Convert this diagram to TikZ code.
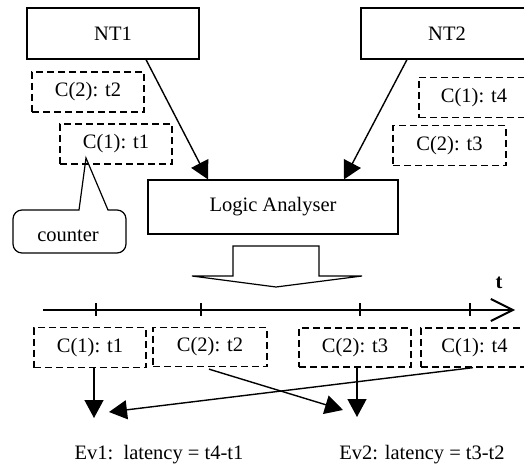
\documentclass[tikz,border=0pt]{standalone}
\usepackage{fontspec}
\setmainfont{Liberation Serif}
\usetikzlibrary{arrows.meta}
\begin{document}
\begin{tikzpicture}[x=1pt,y=-1pt,
  every node/.style={font=\fontsize{20.5}{24}\selectfont, inner sep=0pt},
  unitbox/.style={draw, line width=1.2pt, minimum height=51pt, minimum width=172pt},
  tagbox/.style={draw, line width=1.3pt, dash pattern=on 7pt off 4pt, minimum height=40pt, minimum width=112pt},
  flow/.style={line width=1.4pt, -{Triangle[length=18pt,width=19pt]}},
]
\useasboundingbox (0,0) rectangle (524,468);
\clip (0,0) rectangle (524,468);

% network taps and the analyser
\node[unitbox] (nt1) at (113,33.5) {NT1};
\node[unitbox] (nt2) at (447,33.5) {NT2};
\node[unitbox, minimum width=250pt, minimum height=54pt] (la) at (273,207) {Logic Analyser};

% counter values carried by the packets
\node[tagbox] (a2) at (88,92) {C(2): t2};
\node[tagbox] (a1) at (116,144) {C(1): t1};
\node[tagbox, minimum width=110pt] (a4) at (474,97.5) {C(1): t4};
\node[tagbox, minimum width=113pt] (a3) at (449.5,145.5) {C(2): t3};

\draw[flow] ([xshift=33pt]nt1.south) -- ([xshift=-65pt]la.north);
\draw[flow] ([xshift=-40pt]nt2.south) -- ([xshift=71pt]la.north);

% callout naming the counter
\node (cnt) at (68,235.5) {counter};
\draw[line width=1.2pt] (86,158) -- (108,210) [rounded corners=9pt] -- (126,210) -- (126,253)
  -- (13,253) -- (13,210) [sharp corners] -- (79,210) -- cycle;

% hollow block arrow below the analyser
\draw[line width=1.2pt, line join=miter] (233,246) -- (319,246) -- (319,276) -- (362,276)
  -- (276,287) -- (192,276) -- (233,276) -- cycle;

% time axis
\coordinate (tl0) at (43,310);
\coordinate (tl1) at (515,310);
\draw[line width=1.7pt, -{Straight Barb[length=22pt,width=22pt,line width=2pt]}] (tl0) -- (tl1);
\foreach \x in {96,201,360,470}
  \draw[line width=1.2pt] (\x,303) -- (\x,316);
\node[font=\fontsize{20.5}{24}\selectfont\bfseries] (tlab) at (499,283) {t};

% packets as captured on the time axis
\node[tagbox] (b1) at (90,347.5) {C(1): t1};
\node[tagbox, minimum width=114pt, minimum height=39pt] (b2) at (210,347) {C(2): t2};
\node[tagbox, minimum height=39pt] (b3) at (355,347.5) {C(2): t3};
\node[tagbox, minimum width=107pt, minimum height=39pt] (b4) at (474.5,347.5) {C(1): t4};

\coordinate (e1a) at (94,418);
\coordinate (e1b) at (109,412);
\coordinate (e2a) at (343,410);
\coordinate (e2b) at (357,417);

\draw[flow] ([xshift=4pt]b1.south) -- (e1a);
\draw[flow] ([xshift=-1.5pt]b4.south) -- (e1b);
\draw[flow] ([xshift=-1pt,yshift=-2pt]b2.south) -- (e2a);
\draw[flow] ([xshift=2pt]b3.south) -- (e2b);

% resulting events
\node (ev1) at (159,455) {Ev1:\ \ latency = t4-t1};
\node (ev2) at (422,455) {Ev2: latency = t3-t2};
\end{tikzpicture}
\end{document}
